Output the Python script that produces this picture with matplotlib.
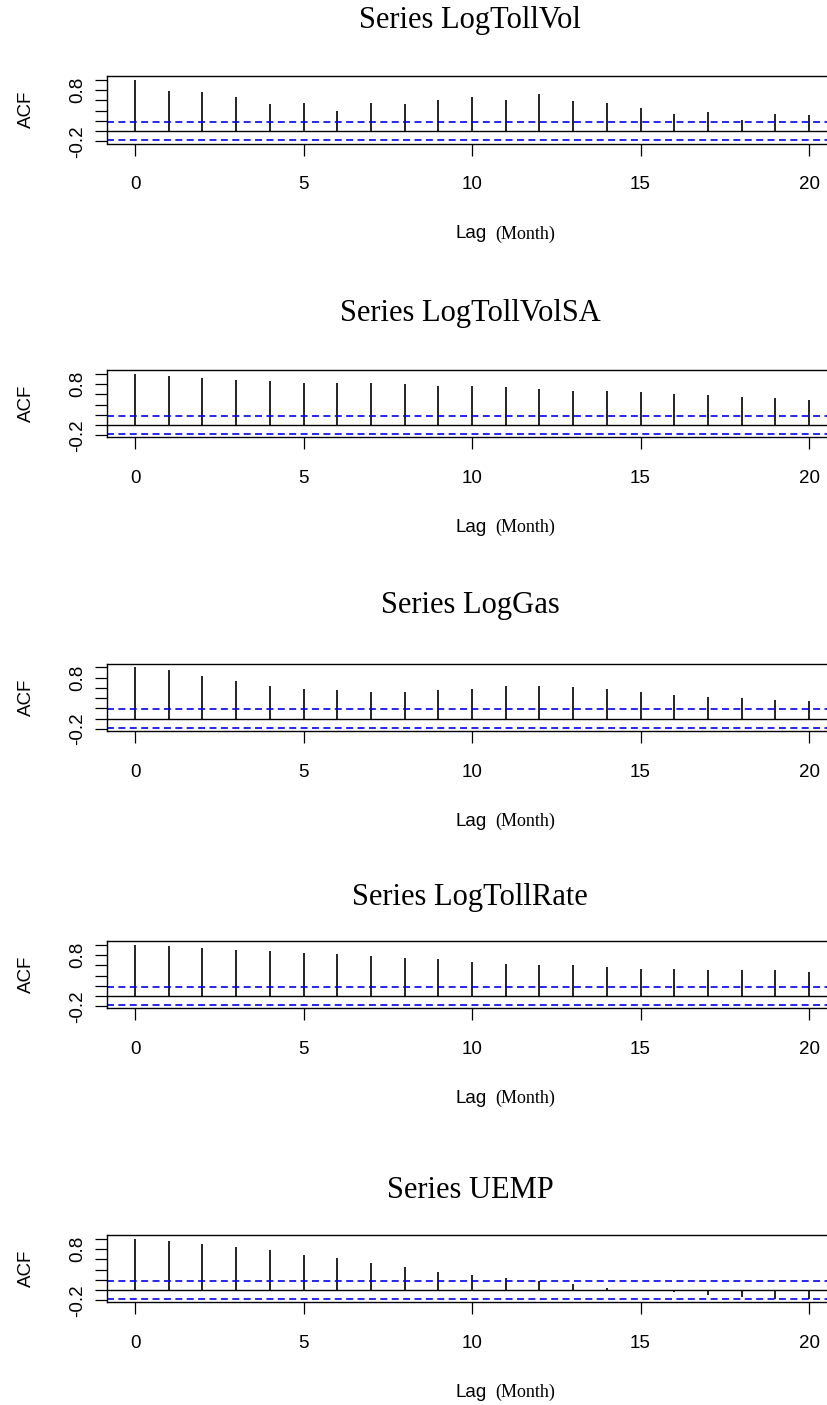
import matplotlib
matplotlib.use("Agg")
import matplotlib.pyplot as plt

# Autocorrelation estimates for lags 0..20 of each monthly series
lags = list(range(21))

acf_logtollvol = [1.0, 0.794, 0.761, 0.671, 0.523, 0.555, 0.40, 0.555, 0.523, 0.613,
                  0.671, 0.613, 0.735, 0.581, 0.555, 0.458, 0.342, 0.374, 0.219, 0.342, 0.31]
acf_logtollvolsa = [1.0, 0.948, 0.916, 0.883, 0.851, 0.818, 0.818, 0.818, 0.792, 0.760,
                    0.760, 0.734, 0.701, 0.669, 0.669, 0.643, 0.610, 0.578, 0.545, 0.519, 0.487]
acf_loggas = [1.0, 0.942, 0.825, 0.734, 0.636, 0.578, 0.552, 0.519, 0.519, 0.552,
              0.578, 0.636, 0.636, 0.610, 0.578, 0.519, 0.461, 0.429, 0.396, 0.364, 0.338]
acf_logtollrate = [1.0, 0.97, 0.945, 0.903, 0.870, 0.838, 0.812, 0.779, 0.747, 0.714,
                   0.656, 0.623, 0.597, 0.597, 0.565, 0.532, 0.532, 0.500, 0.500, 0.500, 0.468]
acf_uemp = [1.0, 0.955, 0.896, 0.838, 0.779, 0.682, 0.623, 0.532, 0.442, 0.351,
            0.292, 0.227, 0.169, 0.110, 0.039, 0.003, -0.039, -0.104, -0.136, -0.182, -0.182]

series_names = ["LogTollVol", "LogTollVolSA", "LogGas", "LogTollRate", "UEMP"]
series_acf = [acf_logtollvol, acf_logtollvolsa, acf_loggas, acf_logtollrate, acf_uemp]

# 95% white-noise bound
ci = 0.18

x_ticks = [0, 5, 10, 15, 20]
y_ticks = [-0.2, 0.0, 0.2, 0.4, 0.6, 0.8, 1.0]
y_tick_labels = ["-0.2", "", "", "", "", "0.8", ""]

# Page layout in pixels
W, H = 828, 1405
ax_left, ax_right = 106.7, 836.0
ax_height = 67.5
ax_bottoms = [143.5, 437.3, 731.0, 1008.3, 1302.3]
title_baselines = [28.0, 320.5, 613.0, 905.5, 1198.0]

plt.rcParams["lines.scale_dashes"] = False
sans = "Liberation Sans"
serif = "Liberation Serif"

fig = plt.figure(figsize=(W / 100, H / 100), dpi=100)

for name, acf, bot, tb in zip(series_names, series_acf, ax_bottoms, title_baselines):
    top = bot - ax_height
    ax = fig.add_axes([ax_left / W, 1 - bot / H, (ax_right - ax_left) / W, ax_height / H])

    ax.vlines(lags, 0, acf, color="black", linewidth=1.2)
    ax.axhline(0, color="black", linewidth=1.0)
    for c in (ci, -ci):
        ax.axhline(c, color="#0000ff", linewidth=1.2, dashes=(5, 3.2))

    ax.set_xlim(-0.84, 20.8)
    ax.set_ylim(-0.24, 1.078)

    ax.set_xticks(x_ticks)
    ax.set_xticklabels([str(t) for t in x_ticks], fontfamily=sans, fontsize=13.5)
    ax.set_yticks(y_ticks)
    ax.set_yticklabels(y_tick_labels, fontfamily=sans, fontsize=13.5,
                       rotation=90, va="center")
    ax.tick_params(axis="both", direction="out", length=8.5, width=0.9, colors="black")
    ax.tick_params(axis="x", pad=15)
    ax.tick_params(axis="y", pad=6)
    for sp in ax.spines.values():
        sp.set_linewidth(1.0)
        sp.set_color("black")

    # y axis label
    fig.text(26 / W, 1 - (top + ax_height / 2) / H, "ACF", rotation=90,
             ha="center", va="center", fontfamily=sans, fontsize=13.5)

    # title
    fig.text(470 / W, 1 - tb / H, "Series " + name, ha="center",
             va="baseline", fontfamily=serif, fontsize=22)

    # x axis label: "Lag" plus unit in serif
    base = 1 - (bot + 95) / H
    fig.text(487 / W, base, "Lag", ha="right", va="baseline",
             fontfamily=sans, fontsize=13.5)
    fig.text(495 / W, base, "(Month)", ha="left", va="baseline",
             fontfamily=serif, fontsize=13)

fig.savefig("out.png", dpi=100)
